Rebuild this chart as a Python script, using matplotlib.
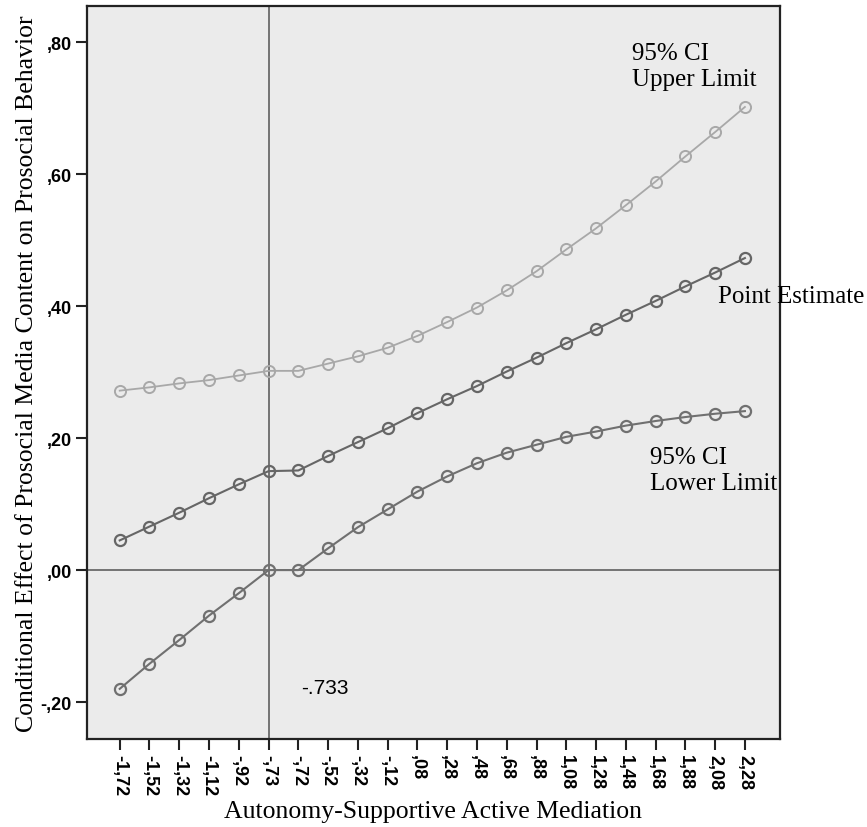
import numpy as np
import matplotlib
matplotlib.use("Agg")
from matplotlib import pyplot as plt

x_labels = ['-1,72', '-1,52', '-1,32', '-1,12', '-,92', '-,73', '-,72', '-,52', '-,32', '-,12',
            ',08', ',28', ',48', ',68', ',88', '1,08', '1,28', '1,48', '1,68', '1,88', '2,08', '2,28']

upper = [0.272, 0.277, 0.283, 0.288, 0.295, 0.302, 0.302, 0.313, 0.324, 0.337, 0.355, 0.376,
         0.398, 0.424, 0.453, 0.486, 0.518, 0.553, 0.589, 0.627, 0.664, 0.702]
point = [0.045, 0.066, 0.087, 0.109, 0.130, 0.150, 0.151, 0.173, 0.194, 0.215, 0.238, 0.259,
         0.279, 0.301, 0.322, 0.344, 0.365, 0.387, 0.408, 0.430, 0.451, 0.473]
lower = [-0.180, -0.142, -0.106, -0.069, -0.035, 0.000, 0.000, 0.033, 0.065, 0.092, 0.119, 0.142,
         0.162, 0.178, 0.190, 0.202, 0.210, 0.219, 0.226, 0.232, 0.237, 0.241]

y_ticks = [-0.2, 0.0, 0.2, 0.4, 0.6, 0.8]
y_tick_labels = ['-,20', ',00', ',20', ',40', ',60', ',80']

serif = 'Liberation Serif'
sans = 'Liberation Sans'

fig = plt.figure(figsize=(8.67, 8.28), dpi=100)
ax = fig.add_axes([0.1003, 0.1063, 0.7994, 0.8852])
ax.set_facecolor('#ebebeb')

xs = np.arange(len(x_labels))
ax.axvline(5, color='#6a6a6a', lw=1.3, zorder=1)
ax.axhline(0, color='#6a6a6a', lw=1.3, zorder=1)

ax.plot(xs, upper, color='#a8a8a8', lw=1.3, marker='o', ms=8, mfc='none', mec='#a8a8a8', mew=1.4, zorder=2)
ax.plot(xs, point, color='#666666', lw=1.5, marker='o', ms=8, mfc='none', mec='#666666', mew=1.6, zorder=2)
ax.plot(xs, lower, color='#707070', lw=1.5, marker='o', ms=8, mfc='none', mec='#707070', mew=1.6, zorder=2)

ax.set_xlim(-1.1, 22.18)
ax.set_ylim(-0.256, 0.855)
ax.set_xticks(xs)
ax.set_xticklabels(x_labels, rotation=270, fontfamily=sans, fontsize=13, fontweight='bold')
ax.set_yticks(y_ticks)
ax.set_yticklabels(y_tick_labels, fontfamily=sans, fontsize=13, fontweight='bold')
ax.tick_params(axis='both', direction='out', length=8, width=1.5, color='#222222', pad=3)

for s in ax.spines.values():
    s.set_linewidth(1.6)
    s.set_color('#222222')

ax.set_xlabel('Autonomy-Supportive Active Mediation', fontfamily=serif, fontsize=18.5, labelpad=3)
ax.set_ylabel('Conditional Effect of Prosocial Media Content on Prosocial Behavior',
              fontfamily=serif, fontsize=18.5, labelpad=2)

ax.text(17.2, 0.764, '95% CI\nUpper Limit', fontfamily=serif, fontsize=18, ha='left', va='center', linespacing=1.25)
ax.text(20.1, 0.415, 'Point Estimate', fontfamily=serif, fontsize=18, ha='left', va='center', clip_on=False)
ax.text(17.8, 0.152, '95% CI\nLower Limit', fontfamily=serif, fontsize=18, ha='left', va='center', linespacing=1.25)
ax.text(6.1, -0.178, '-.733', fontfamily=sans, fontsize=15, ha='left', va='center')

fig.savefig('out.png', dpi=100)
